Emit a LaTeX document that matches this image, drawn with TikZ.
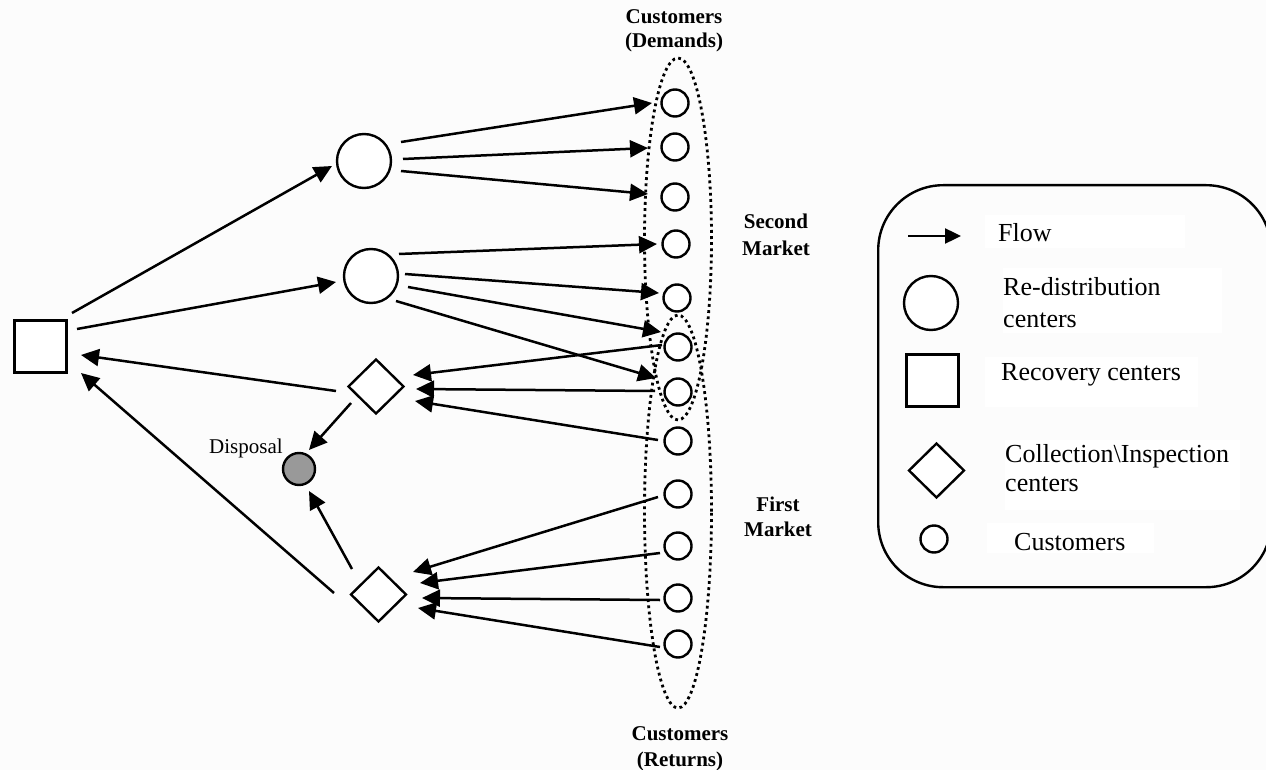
\documentclass[tikz,border=0pt]{standalone}
\usepackage{fontspec}
\setmainfont{Liberation Serif}
\usetikzlibrary{arrows.meta,shapes.geometric}
\definecolor{bgc}{rgb}{.99,.99,.99}
\tikzset{
  circ/.style={circle,draw,fill=white,line width=2.4pt,inner sep=0,minimum size=54pt},
  cust/.style={circle,draw,fill=white,line width=2.4pt,inner sep=0,minimum size=27pt},
  sqr/.style={rectangle,draw,fill=white,line width=2.4pt,inner sep=0,minimum size=52pt},
  dia/.style={diamond,draw,fill=white,line width=2.4pt,inner sep=0,minimum width=56pt,minimum height=55pt},
  disp/.style={circle,draw,fill=black!40,line width=2.4pt,inner sep=0,minimum size=32pt},
  market/.style={ellipse,draw,dash pattern=on 2.8pt off 3.4pt,line width=2.8pt,inner sep=0,minimum width=67pt},
  flow/.style={line width=2.5pt,-{Triangle[length=18pt,width=17pt]}},
  legendbox/.style={rectangle,draw,line width=2.4pt,rounded corners=65pt,inner sep=0,minimum width=393pt,minimum height=402pt},
  legtext/.style={anchor=base west,inner sep=0,font=\fontsize{26}{26}\selectfont},
  bold/.style={anchor=base,inner sep=0,font=\fontsize{21}{21}\selectfont\bfseries},
}
\newcommand{\conn}[4]{\draw[flow] ([shift={(#2)}]#1.center) -- ([shift={(#4)}]#3.center);}
\begin{document}
\begin{tikzpicture}[x=1pt,y=-1pt]
\useasboundingbox (0,0) rectangle (1266,770);
\fill[bgc] (0,0) rectangle (1266,770);
% markets
\node[market,minimum height=362pt] (dem) at (678,239) {};
\node[market,minimum height=393pt] (ret) at (678,511.5) {};
% customers
\foreach \n/\x/\y in {c1/675/103,c2/675/147,c3/675/197,c4/676/244,c5/677/298,c6/678/347,c7/678/392,c8/678/441,c9/678/494,c10/678/546,c11/678/598,c12/678/644}
  \node[cust] (\n) at (\x,\y) {};
% facilities
\node[sqr] (sq) at (40.5,346.5) {};
\node[circ] (r1) at (364,161) {};
\node[circ] (r2) at (371,276) {};
\node[dia] (d1) at (376,386.5) {};
\node[dia] (d2) at (378.5,594.5) {};
\node[disp] (dp) at (299,469) {};
% flows
\conn{sq}{31.5,-33.5}{r1}{-32,5}
\conn{sq}{36.5,-17.5}{r2}{-35,6}
\conn{d1}{-40,4.5}{sq}{40.5,8.5}
\conn{d2}{-44.5,-1.5}{sq}{40.5,26.5}
\conn{d1}{-25,16.5}{dp}{10,-19}
\conn{d2}{-26.5,-25.5}{dp}{10,22}
\conn{r1}{37,-19}{c1}{-23,0}
\conn{r1}{39,-2}{c2}{-27,1}
\conn{r1}{37,10}{c3}{-27,-3}
\conn{r2}{28,-22}{c4}{-19,0}
\conn{r2}{34,-2}{c5}{-18,-5}
\conn{r2}{37,11}{c6}{-17,-15}
\conn{r2}{25,25}{c7}{-22,-14}
\conn{c6}{-16,-2}{d1}{37,-11.5}
\conn{c7}{-23,-1}{d1}{40,2.5}
\conn{c8}{-20,-1}{d1}{39,14.5}
\conn{c9}{-20,3}{d2}{34.5,-22.5}
\conn{c10}{-18,7}{d2}{41.5,-11.5}
\conn{c11}{-18,2}{d2}{43.5,3.5}
\conn{c12}{-18,3}{d2}{39.5,13.5}
% labels
\node[bold] (t1) at (674,23.5) {Customers};
\node[bold] (t2) at (674,47.5) {(Demands)};
\node[bold] (t3) at (680,740) {Customers};
\node[bold] (t4) at (680,766) {(Returns)};
\node[bold] (t5) at (776,229) {Second};
\node[bold] (t6) at (776,255) {Market};
\node[bold] (t7) at (778,511) {First};
\node[bold] (t8) at (778,536) {Market};
\node[legtext,font=\fontsize{21}{21}\selectfont] (t9) at (209,453) {Disposal};
% legend
\node[legendbox,anchor=north west] (leg) at (877,184) {};
\fill[white] (985,215) rectangle (1185,248);
\fill[white] (1003,268) rectangle (1222,333);
\fill[white] (985,357) rectangle (1198,407);
\fill[white] (1005,440) rectangle (1240,510);
\fill[white] (987,523) rectangle (1154,553);
\coordinate (fa) at (908,236);
\coordinate (fb) at (961,236);
\draw[line width=2.4pt,-{Triangle[length=16pt,width=15pt]}] (fa) -- (fb);
\node[circ] (lc) at (931,303) {};
\node[sqr] (ls) at (932.5,380.5) {};
\node[dia] (ld) at (936.5,470.5) {};
\node[cust] (lu) at (934,539) {};
\node[legtext] (l1) at (998,241) {Flow};
\node[legtext] (l2) at (1003,295) {Re-distribution};
\node[legtext] (l3) at (1003,327) {centers};
\node[legtext] (l4) at (1001,380) {Recovery centers};
\node[legtext] (l5) at (1005,462) {Collection\textbackslash Inspection};
\node[legtext] (l6) at (1005,491) {centers};
\node[legtext] (l7) at (1014,550) {Customers};
\end{tikzpicture}
\end{document}
